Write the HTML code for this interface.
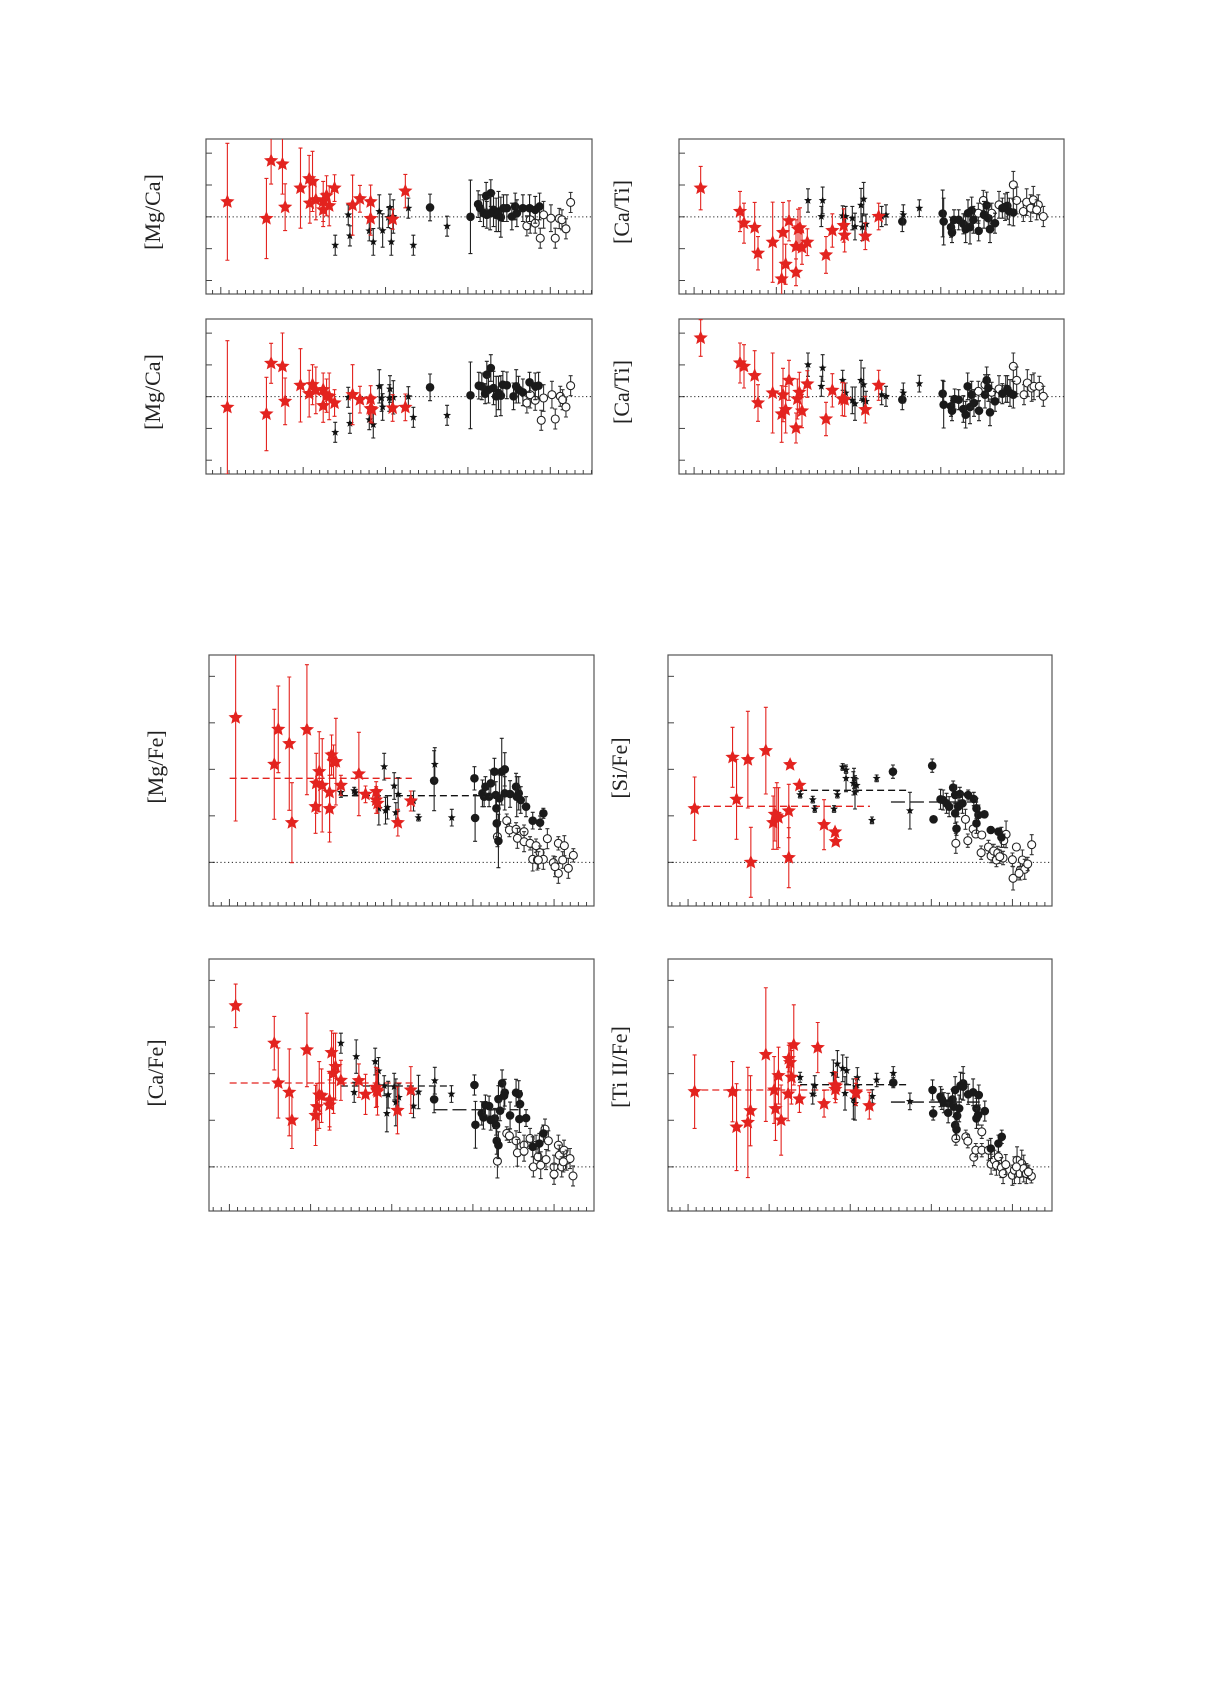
<!DOCTYPE html>
<html><head><meta charset="utf-8"><style>
html,body{margin:0;padding:0;background:#fff;}
svg{display:block;}
text{font-family:"Liberation Serif",serif;}
</style></head><body>
<svg id="fig" width="1210" height="1683" viewBox="0 0 1210 1683" xmlns="http://www.w3.org/2000/svg"></svg>
<script>
// ---------- Panel: [Mg/Ca] top ----------
const mgcaARed=[[2.93,0.45,1.75],[4.10,-0.05,1.2],[4.24,1.68,0.7],[4.58,1.58,0.9],[4.66,0.29,0.7],[5.12,0.86,1.2],[5.38,1.14,0.7],[5.48,1.06,0.9],[5.40,0.41,0.6],[5.58,0.51,0.6],[5.80,0.46,0.6],[5.80,0.21,0.5],[5.90,0.63,0.6],[5.98,0.33,0.6],[6.14,0.86,0.4],[6.68,0.35,0.9],[6.90,0.54,0.4],[7.22,0.45,0.5],[7.22,-0.05,0.5],[7.88,-0.07,0.3],[8.26,0.77,0.5]];
const mgcaAStar=[[6.55,0.06,.3],[6.16,-0.85,.3],[6.60,-0.57,.3],[7.18,-0.42,.3],[7.30,-0.75,.4],[7.48,0.16,.5],[7.58,-0.41,.5],[7.80,0.28,.4],[7.75,-0.02,.3],[7.84,-0.75,.4],[8.35,0.26,.3],[8.50,-0.85,.3],[9.51,-0.28,.3],[7.90,0.01,.5]];
const mgcaADot=[[9.00,0.28,.4],[10.21,0,1.1],[10.44,0.38,.4],[10.50,0.26,.4],[10.60,0.11,.4],[10.68,0.63,.4],[10.82,0.71,.4],[10.90,0.21,.5],[10.98,0.06,.5],[11.05,0.16,.6],[11.12,-0.01,.6],[11.20,0.26,.4],[11.30,0.26,.4],[11.45,0.01,.4],[11.55,0.31,.4],[11.60,0.11,.4],[11.78,0.26,.4],[11.98,0.26,.4],[12.15,0.21,.4],[12.28,0.31,.4],[10.80,0.11,.5],[10.70,0.06,.4]];
const mgcaAOpen=[[11.90,-0.27,.3],[12.00,-0.09,.4],[12.30,-0.64,.3],[12.40,0.06,.4],[12.62,-0.04,.4],[12.75,-0.64,.3],[12.87,-0.05,.3],[12.95,-0.09,.3],[13.07,-0.36,.3],[13.21,0.43,.3],[12.15,-0.19,.3]];
// ---------- Panel: [Mg/Ca] bottom ----------
const mgcaBRed=[[2.93,-0.32,2.0],[4.10,-0.52,1.1],[4.24,1.00,.6],[4.58,0.91,1.0],[4.66,-0.14,.7],[5.12,0.34,1.1],[5.38,0.09,.7],[5.48,0.36,.6],[5.58,0.19,.7],[5.80,0.21,.5],[5.80,-0.27,.5],[5.90,0.03,.5],[5.98,0.01,.7],[6.14,-0.19,.4],[6.68,0.06,.9],[6.90,-0.09,.4],[7.22,-0.07,.4],[7.22,-0.36,.4],[7.26,-0.39,.4],[7.88,-0.34,.4],[8.26,-0.32,.4]];
const mgcaBStar=[[6.55,-0.02,.3],[6.16,-1.07,.3],[6.60,-0.80,.3],[7.18,-0.69,.3],[7.30,-0.84,.4],[7.48,0.31,.5],[7.55,-0.04,.4],[7.58,-0.31,.4],[7.80,0.23,.4],[7.78,-0.04,.4],[7.90,-0.02,.5],[8.35,0,.3],[8.50,-0.62,.3],[9.51,-0.56,.3]];
const mgcaBDot=[[9.00,0.28,.4],[10.21,0.04,1.0],[10.46,0.33,.4],[10.55,0.31,.4],[10.65,0.09,.3],[10.70,0.66,.4],[10.82,0.86,.4],[10.90,0.26,.5],[10.98,0.01,.6],[11.05,0.11,.5],[11.12,0.03,.6],[11.18,0.36,.4],[11.30,0.34,.4],[11.50,0.01,.4],[11.58,0.31,.5],[11.65,0.21,.4],[11.78,0.13,.4],[11.98,0.43,.3],[12.15,0.31,.4],[12.25,0.33,.4],[10.75,0.21,.4]];
const mgcaBOpen=[[11.90,-0.19,.3],[12.00,0.06,.4],[12.33,-0.71,.3],[12.40,-0.04,.4],[12.65,0.06,.4],[12.75,-0.67,.3],[12.90,0.01,.3],[12.97,-0.09,.3],[13.07,-0.31,.3],[13.21,0.33,.3],[12.15,-0.11,.3]];
// ---------- Panel: [Ca/Ti] top ----------
const catiARed=[[3.02,.86,.65],[4.20,.16,.6],[4.32,-.19,.6],[4.64,-.32,.75],[4.74,-1.09,.5],[5.18,-.76,1.2],[5.45,-1.86,.5],[5.49,-.47,.9],[5.57,-1.42,.6],[5.67,-.12,.6],[5.88,-.89,.8],[5.88,-1.66,.4],[5.94,-.37,.6],[6.00,-.33,.6],[6.06,-.92,.5],[6.22,-.76,.4],[6.78,-1.14,.55],[6.97,-.41,.5],[7.31,-.26,.5],[7.34,-.55,.5],[7.96,-.58,.4],[8.36,.01,.4]];
const catiAStar=[[6.24,.49,.35],[6.64,.01,.3],[6.68,.49,.4],[7.28,.03,.3],[7.37,.01,.3],[7.57,-.04,.35],[7.65,-.29,.4],[7.83,.35,.5],[7.91,.53,.5],[7.87,-.31,.4],[7.98,-.22,.3],[8.45,.01,.3],[8.58,.06,.3],[9.10,.06,.3],[9.58,.26,.25]];
const catiADot=[[9.07,-.14,.3],[10.28,.10,.7],[10.31,-.14,.7],[10.53,-.31,.3],[10.56,-.47,.3],[10.62,-.09,.3],[10.76,-.09,.3],[10.90,-.21,.3],[10.97,-.37,.4],[11.04,.11,.4],[11.10,-.31,.5],[11.15,.19,.4],[11.20,-.09,.4],[11.36,-.42,.3],[11.52,.06,.4],[11.60,.34,.4],[11.65,-.04,.4],[11.70,-.37,.4],[11.85,-.19,.3],[12.07,.26,.3],[12.22,.33,.4],[12.28,.16,.4],[12.40,.13,.4]];
const catiAOpen=[[11.35,.11,.3],[11.50,.49,.3],[11.75,.11,.3],[11.97,.36,.4],[12.15,.29,.4],[12.40,.96,.4],[12.50,.49,.4],[12.70,.16,.3],[12.80,.44,.4],[12.92,.26,.4],[13.00,.51,.4],[13.15,.36,.3],[13.30,.01,.3],[13.10,.21,.3]];
// ---------- Panel: [Ca/Ti] bottom ----------
const catiBRed=[[3.02,1.76,.55],[4.20,1.01,.6],[4.32,.91,.65],[4.64,.63,.75],[4.74,-.19,.55],[5.18,.11,1.2],[5.45,-.52,.85],[5.49,.05,.8],[5.57,-.39,.7],[5.67,.49,.6],[5.88,-.94,.45],[5.92,-.07,.6],[5.98,.13,.6],[6.06,-.43,.5],[6.22,.38,.4],[6.78,-.67,.5],[6.97,.19,.5],[7.27,-.07,.5],[7.34,-.09,.5],[7.96,-.39,.4],[8.36,.34,.45]];
const catiBStar=[[6.24,.96,.35],[6.64,.31,.3],[6.68,.86,.4],[7.28,.49,.3],[7.37,.11,.3],[7.57,-.11,.4],[7.65,-.21,.5],[7.83,.49,.6],[7.91,.36,.5],[7.90,-.09,.4],[7.98,-.14,.3],[8.45,.06,.3],[8.58,.01,.3],[9.10,.11,.3],[9.58,.39,.25]];
const catiBDot=[[9.07,-.09,.3],[10.28,.09,.4],[10.31,-.24,.7],[10.53,-.29,.3],[10.56,-.42,.3],[10.64,-.07,.3],[10.76,-.09,.3],[10.90,-.37,.4],[10.97,-.54,.4],[11.03,.31,.4],[11.10,-.31,.5],[11.15,.06,.4],[11.22,-.19,.4],[11.37,-.42,.3],[11.55,.06,.4],[11.60,.49,.4],[11.65,.26,.4],[11.70,-.47,.4],[11.85,-.14,.3],[12.07,.09,.3],[12.22,.23,.4],[12.30,.11,.4],[12.40,.06,.4]];
const catiBOpen=[[11.35,.16,.3],[11.55,.36,.3],[11.75,.13,.3],[11.97,.23,.4],[12.17,.23,.4],[12.40,.91,.4],[12.50,.49,.4],[12.72,.06,.3],[12.82,.41,.4],[12.95,.26,.4],[13.02,.31,.4],[13.18,.31,.3],[13.30,.01,.3]];
// ---------- Panel: [Mg/Fe] ----------
const mgfeRed=[[3.16,4.34,3.1],[4.32,2.94,1.65],[4.44,3.99,1.3],[4.77,3.56,2.0],[4.85,1.19,1.2],[5.30,3.98,1.95],[5.56,1.67,.8],[5.58,2.37,.9],[5.67,2.72,1.2],[5.76,2.31,1.4],[5.98,2.10,1.2],[5.98,1.61,1.0],[6.04,3.22,.6],[6.10,3.02,.5],[6.17,3.02,1.3],[6.32,2.31,.3],[6.86,2.65,1.25],[7.06,2.04,.25],[7.38,2.12,.3],[7.38,1.87,.4],[7.42,1.77,.3],[8.03,1.19,.4],[8.42,1.84,.3]];
const mgfeStar=[[6.32,2.10,.15],[6.72,2.15,.1],[6.76,2.09,.1],[7.46,1.62,.5],[7.62,2.87,.4],[7.72,1.65,.35],[7.66,1.55,.4],[7.92,2.29,.4],[7.97,1.49,.3],[8.04,2.04,.5],[8.50,1.84,.3],[8.65,1.34,.1],[9.14,2.94,.5],[9.65,1.34,.25]];
const mgfeDot=[[9.12,2.45,.9],[10.33,2.52,.35],[10.35,1.33,.7],[10.57,2.07,.4],[10.62,1.97,.3],[10.66,2.27,.3],[10.77,1.97,.3],[10.82,2.37,.4],[10.93,2.72,.4],[10.97,2.02,.4],[10.99,1.62,.4],[11.00,1.17,.4],[11.05,.64,.8],[11.08,1.92,.7],[11.15,2.72,1.0],[11.24,2.79,.5],[11.24,2.07,.5],[11.40,2.05,.4],[11.58,2.27,.4],[11.66,2.07,.5],[11.72,1.87,.4],[11.88,1.67,.3],[12.08,1.25,.25],[12.30,1.19,.2],[12.40,1.47,.15],[11.60,1.97,.6]];
const mgfeOpen=[[11.02,.77,.3],[11.30,1.25,.2],[11.38,.97,.2],[11.58,.99,.2],[11.62,.72,.3],[11.82,.92,.2],[11.82,.62,.3],[12.00,.57,.2],[12.08,.09,.35],[12.18,.50,.2],[12.22,.07,.3],[12.30,.29,.2],[12.40,.09,.3],[12.52,.71,.3],[12.70,-.01,.2],[12.85,.57,.2],[12.85,-.33,.3],[12.98,.07,.25],[13.03,.50,.3],[13.15,-.18,.3],[13.30,.21,.2],[12.25,.07,.25],[12.75,-.13,.3]];
const mgfeRedMean=[[2.98,8.45,2.52]];
const mgfeBlackMean=[[6.32,10.55,2.00]];
const mgfeBlackMean2=[];
// ---------- Panel: [Si/Fe] ----------
const sifeRed=[[2.83,1.61,.95],[3.97,3.15,.9],[4.09,1.89,1.2],[4.43,3.08,1.45],[4.52,0,1.05],[4.97,3.35,1.3],[5.19,1.19,.8],[5.24,1.44,.8],[5.30,1.39,1.0],[5.35,1.34,.9],[5.66,1.54,.8],[5.66,.14,.9],[5.70,2.93,.1],[5.98,2.31,.1],[6.72,1.13,.75],[7.05,.91,.1],[7.07,.62,.1]];
const sifeStar=[[6.00,2.03,.1],[6.38,1.88,.1],[6.44,1.60,.1],[7.02,1.60,.1],[7.12,2.03,.1],[7.28,2.86,.1],[7.38,2.77,.1],[7.38,2.52,.4],[7.62,2.52,.3],[7.65,2.10,.5],[7.70,2.31,.2],[8.16,1.26,.1],[8.30,2.52,.1],[9.30,1.55,.55],[7.60,2.37,.35]];
const sifeDot=[[8.79,2.72,.2],[9.97,2.90,.2],[10.01,1.29,.1],[10.22,1.89,.3],[10.30,1.87,.3],[10.40,1.77,.3],[10.48,1.67,.3],[10.60,2.24,.2],[10.66,2.02,.3],[10.66,1.47,.3],[10.70,1.01,.2],[10.80,2.05,.2],[10.88,1.77,.3],[11.05,2.02,.15],[11.22,1.90,.2],[11.30,1.62,.3],[11.36,1.42,.3],[11.30,1.17,.3],[11.54,1.44,.1],[11.73,.97,.1],[11.96,.92,.1],[12.05,.75,.3],[10.75,1.67,.3]];
const sifeOpen=[[10.68,.57,.3],[10.97,1.29,.3],[11.04,.65,.2],[11.20,1.00,.1],[11.28,.85,.1],[11.46,.82,.1],[11.44,.29,.2],[11.66,.46,.2],[11.74,.19,.2],[11.82,.34,.2],[11.90,.07,.2],[11.94,.28,.2],[12.10,.13,.2],[12.19,.84,.4],[12.12,.65,.2],[12.38,.08,.2],[12.40,-.48,.35],[12.50,.46,.1],[12.62,-.23,.3],[12.68,.07,.3],[12.75,-.21,.3],[12.84,-.05,.2],[12.96,.53,.3],[12.00,.17,.2],[12.58,-.33,.2]];
const sifeRedMean=[[2.75,8.10,1.68]];
const sifeBlackMean=[[6.00,9.30,2.16]];
const sifeBlackMean2=[[8.73,11.35,1.81]];
// ---------- Panel: [Ca/Fe] ----------
const cafeRed=[[3.16,4.82,.65],[4.32,3.70,.8],[4.44,2.51,1.05],[4.77,2.23,1.3],[4.85,1.40,.85],[5.30,3.50,1.1],[5.56,1.54,.9],[5.60,1.80,.7],[5.67,2.15,1.0],[5.74,2.13,.8],[5.98,2.00,.8],[5.98,1.85,.75],[6.04,3.42,.65],[6.10,2.80,1.2],[6.16,3.00,1.0],[6.32,2.59,.6],[6.86,2.58,.5],[7.06,2.17,.6],[7.37,2.38,.6],[7.40,2.30,.5],[7.42,2.25,.7],[8.02,1.69,.7],[8.42,2.30,.7]];
const cafeStar=[[6.32,3.70,.3],[6.72,2.23,.3],[6.78,3.30,.5],[7.35,3.15,.4],[7.45,2.87,.4],[7.62,2.43,.3],[7.70,1.60,.55],[7.74,2.16,.4],[7.92,2.40,.4],[7.97,1.93,.7],[8.06,2.08,.4],[8.50,1.82,.35],[8.65,2.24,.5],[9.14,2.58,.4],[9.64,2.18,.25]];
const cafeDot=[[9.12,2.02,.4],[10.33,2.45,.3],[10.36,1.26,.7],[10.55,1.60,.35],[10.60,1.48,.35],[10.66,1.85,.3],[10.77,1.82,.3],[10.82,1.40,.3],[10.94,1.45,.3],[10.98,1.25,.3],[11.00,.78,.4],[11.05,.65,.4],[11.05,2.03,.4],[11.10,1.68,.3],[11.16,2.50,.4],[11.24,2.22,.4],[11.40,1.54,.4],[11.58,2.22,.4],[11.66,2.18,.4],[11.70,1.88,.4],[11.68,1.43,.4],[11.88,1.46,.25],[12.08,.60,.3],[12.28,.70,.3],[12.40,1.00,.25],[11.22,2.13,.4]];
const cafeOpen=[[11.02,.17,.5],[11.30,1.00,.2],[11.38,.93,.2],[11.58,.78,.3],[11.62,.42,.4],[11.82,.65,.3],[11.82,.47,.3],[12.00,.85,.3],[12.10,0,.3],[12.18,.65,.3],[12.24,.30,.3],[12.32,.05,.4],[12.45,1.13,.3],[12.48,.22,.3],[12.55,.78,.3],[12.72,0,.35],[12.72,-.22,.3],[12.85,.65,.3],[12.88,.35,.3],[12.95,0,.3],[13.02,.50,.3],[13.10,.20,.3],[13.20,.25,.3],[13.29,-.27,.3],[13.00,.15,.3]];
const cafeRedMean=[[2.98,8.50,2.51]];
const cafeBlackMean=[[6.32,9.65,2.42]];
const cafeBlackMean2=[[9.10,11.65,1.71]];
// ---------- Panel: [Ti II/Fe] ----------
const tifeRed=[[2.83,2.25,1.1],[3.97,2.25,.9],[4.09,1.19,1.3],[4.43,1.33,1.65],[4.51,1.68,1.05],[4.97,3.36,2.0],[5.22,2.30,1.0],[5.26,1.74,.95],[5.35,2.73,.85],[5.43,1.40,1.05],[5.64,2.18,.8],[5.66,3.24,.4],[5.70,3.12,.5],[5.74,2.68,.8],[5.81,3.65,1.2],[5.98,2.03,.4],[6.53,3.57,.75],[6.72,1.89,.4],[7.04,2.45,.4],[7.06,2.32,.4],[7.08,2.42,.4],[7.68,2.24,.4],[7.68,2.20,.3],[8.08,1.83,.4]];
const tifeStar=[[6.00,2.68,.15],[6.38,2.18,.3],[6.44,2.43,.3],[7.00,2.80,.4],[7.12,3.08,.4],[7.28,2.95,.4],[7.40,2.88,.4],[7.35,2.20,.5],[7.60,2.03,.6],[7.65,1.90,.5],[7.72,2.67,.3],[8.17,2.11,.2],[8.30,2.60,.2],[8.80,2.80,.2],[9.30,1.96,.25],[7.68,2.40,.3]];
const tifeDot=[[8.80,2.52,.15],[9.98,2.30,.3],[10.00,1.60,.2],[10.22,2.10,.3],[10.26,2.02,.3],[10.32,1.92,.3],[10.45,1.90,.3],[10.45,1.62,.3],[10.58,2.02,.3],[10.62,1.80,.3],[10.66,2.30,.4],[10.66,1.25,.3],[10.70,1.12,.3],[10.72,1.53,.3],[10.78,1.75,.4],[10.82,2.43,.4],[10.90,2.50,.5],[11.05,2.17,.3],[11.20,2.23,.4],[11.30,1.75,.3],[11.30,1.45,.3],[11.37,2.15,.3],[11.35,1.55,.3],[11.55,1.67,.3],[11.73,.55,.3],[11.96,.70,.25],[12.06,.90,.2],[10.90,2.40,.4]];
const tifeOpen=[[10.68,.85,.2],[10.98,.90,.2],[11.04,.77,.2],[11.22,.29,.25],[11.28,.50,.2],[11.46,1.05,.2],[11.46,.50,.2],[11.66,.50,.3],[11.74,.08,.3],[11.84,.20,.3],[11.90,.05,.3],[11.96,.30,.3],[12.05,-.02,.3],[12.10,-.20,.3],[12.18,.07,.3],[12.38,-.25,.3],[12.44,-.10,.4],[12.52,.20,.4],[12.60,-.20,.3],[12.66,.10,.4],[12.72,-.05,.4],[12.80,-.20,.3],[12.95,-.28,.2],[12.86,-.15,.2],[12.50,0,.3]];
const tifeRedMean=[[2.70,8.20,2.30]];
const tifeBlackMean=[[6.00,9.30,2.46]];
const tifeBlackMean2=[[8.73,11.40,1.94]];

const panels=[
 {name:'mgca-top',label:'[Mg/Ca]',box:[206,139,592,294],xd:[2.29,13.85],xmaj:5.20,xstep:0.2467,yd:[-2.31,2.33],ystep:0.953,lx:155,ly:212,red:mgcaARed,star:mgcaAStar,dot:mgcaADot,open:mgcaAOpen},
 {name:'mgca-bottom',label:'[Mg/Ca]',box:[206,319,592,474],xd:[2.29,13.85],xmaj:5.20,xstep:0.2467,yd:[-2.32,2.33],ystep:0.953,lx:155,ly:392,red:mgcaBRed,star:mgcaBStar,dot:mgcaBDot,open:mgcaBOpen},
 {name:'cati-top',label:'[Ca/Ti]',box:[679,139,1064,294],xd:[2.37,13.92],xmaj:5.29,xstep:0.2467,yd:[-2.31,2.33],ystep:0.953,lx:624,ly:212,red:catiARed,star:catiAStar,dot:catiADot,open:catiAOpen},
 {name:'cati-bottom',label:'[Ca/Ti]',box:[679,319,1064,474],xd:[2.37,13.92],xmaj:5.29,xstep:0.2467,yd:[-2.32,2.33],ystep:0.953,lx:624,ly:392,red:catiBRed,star:catiBStar,dot:catiBDot,open:catiBOpen},
 {name:'mgfe',label:'[Mg/Fe]',box:[209,655,594,906],xd:[2.36,13.92],xmaj:5.41,xstep:0.2437,yd:[-1.31,6.22],ystep:1.395,lx:158,ly:767,red:mgfeRed,star:mgfeStar,dot:mgfeDot,open:mgfeOpen,rm:mgfeRedMean,bm:mgfeBlackMean,bm2:mgfeBlackMean2},
 {name:'sife',label:'[Si/Fe]',box:[668,655,1052,906],xd:[2.03,13.57],xmaj:5.07,xstep:0.2437,yd:[-1.31,6.22],ystep:1.395,lx:622,ly:768,red:sifeRed,star:sifeStar,dot:sifeDot,open:sifeOpen,rm:sifeRedMean,bm:sifeBlackMean,bm2:sifeBlackMean2},
 {name:'cafe',label:'[Ca/Fe]',box:[209,959,594,1211],xd:[2.36,13.92],xmaj:5.41,xstep:0.2437,yd:[-1.32,6.22],ystep:1.395,lx:158,ly:1073,red:cafeRed,star:cafeStar,dot:cafeDot,open:cafeOpen,rm:cafeRedMean,bm:cafeBlackMean,bm2:cafeBlackMean2},
 {name:'tife',label:'[Ti II/Fe]',box:[668,959,1052,1211],xd:[2.03,13.57],xmaj:5.07,xstep:0.2437,yd:[-1.32,6.22],ystep:1.395,lx:622,ly:1067,red:tifeRed,star:tifeStar,dot:tifeDot,open:tifeOpen,rm:tifeRedMean,bm:tifeBlackMean,bm2:tifeBlackMean2}
];

const NS='http://www.w3.org/2000/svg';
const svg=document.getElementById('fig');
function mk(tag,attrs,parent){const e=document.createElementNS(NS,tag);for(const k in attrs)e.setAttribute(k,attrs[k]);(parent||svg).appendChild(e);return e;}
function starPath(cx,cy,R,r,n){let d='';for(let i=0;i<2*n;i++){const a=-Math.PI/2+i*Math.PI/n;const rr=i%2?r:R;d+=(i?'L':'M')+(cx+rr*Math.cos(a)).toFixed(2)+','+(cy+rr*Math.sin(a)).toFixed(2);}return d+'Z';}
const RED='#e3231f';

panels.forEach(p=>{
  const [L,T,R,B]=p.box;
  const g=mk('g',{});
  
  
  const xs=v=>L+(v-p.xd[0])/(p.xd[1]-p.xd[0])*(R-L);
  const ys=v=>B-(v-p.yd[0])/(p.yd[1]-p.yd[0])*(B-T);
  const clip='clip-'+p.name;
  const cp=mk('clipPath',{id:clip},g);mk('rect',{x:L,y:T,width:R-L,height:B-T},cp);
  const fr=mk('rect',{x:L,y:T,width:R-L,height:B-T,fill:'none',stroke:'#555','stroke-width':1.2},g);
  
  
  for(let k=-6;k<=6;k++){const v=k*p.ystep;if(v<=p.yd[0]||v>=p.yd[1])continue;const y=ys(v);
    const t=mk('line',{x1:L,x2:L+6,y1:y,y2:y,stroke:'#444','stroke-width':1},g);
    
    }
  for(let k=-20;k<=60;k++){const v=p.xmaj+k*p.xstep;if(v<=p.xd[0]||v>=p.xd[1])continue;const x=xs(v);const len=(k%10===0)?7:4;
    const t=mk('line',{x1:x,x2:x,y1:B,y2:B-len,stroke:'#444','stroke-width':1},g);
    
    }
  const z=mk('line',{x1:L,x2:R,y1:ys(0),y2:ys(0),stroke:'#222','stroke-width':1,'stroke-dasharray':'1.2,2.6'},g);
  
  
  const lb=mk('text',{x:p.lx,y:p.ly,'font-size':22,'text-anchor':'middle','dominant-baseline':'middle',transform:`rotate(-90 ${p.lx} ${p.ly})`,fill:'#222'},g);
  lb.textContent=p.label;
  
  
  const dg=mk('g',{'clip-path':`url(#${clip})`},g);
  (p.rm||[]).forEach(s=>{const l=mk('line',{x1:xs(s[0]),x2:xs(s[1]),y1:ys(s[2]),y2:ys(s[2]),stroke:RED,'stroke-width':1.3,'stroke-dasharray':'7,4'},dg);
    
    });
  (p.bm||[]).forEach(s=>{const l=mk('line',{x1:xs(s[0]),x2:xs(s[1]),y1:ys(s[2]),y2:ys(s[2]),stroke:'#111','stroke-width':1.3,'stroke-dasharray':'7,4'},dg);
    
    });
  (p.bm2||[]).forEach(s=>{const l=mk('line',{x1:xs(s[0]),x2:xs(s[1]),y1:ys(s[2]),y2:ys(s[2]),stroke:'#111','stroke-width':1.3,'stroke-dasharray':'14,5'},dg);
    
    });
  function errbar(d,col){const x=xs(d[0]),y1=ys(d[1]-d[2]),y2=ys(d[1]+d[2]);
    const e=mk('path',{d:`M${x},${y1}V${y2}M${x-2},${y1}H${x+2}M${x-2},${y2}H${x+2}`,stroke:col,'stroke-width':1.1,fill:'none'},dg);
    
    }
  p.open.forEach(d=>{errbar(d,'#333');const c=mk('circle',{cx:xs(d[0]),cy:ys(d[1]),r:4,fill:'#fff',stroke:'#222','stroke-width':1.1},dg);
    
    });
  p.dot.forEach(d=>{errbar(d,'#222');const c=mk('circle',{cx:xs(d[0]),cy:ys(d[1]),r:4.3,fill:'#1a1a1a'},dg);
    
    });
  p.star.forEach(d=>{errbar(d,'#222');const s=mk('path',{d:starPath(xs(d[0]),ys(d[1]),4.2,1.8,5),fill:'#111'},dg);
    
    });
  p.red.forEach(d=>{errbar(d,RED);const s=mk('path',{d:starPath(xs(d[0]),ys(d[1]),7.5,3.4,5),fill:RED},dg);
    
    });
});
</script>
</body></html>
